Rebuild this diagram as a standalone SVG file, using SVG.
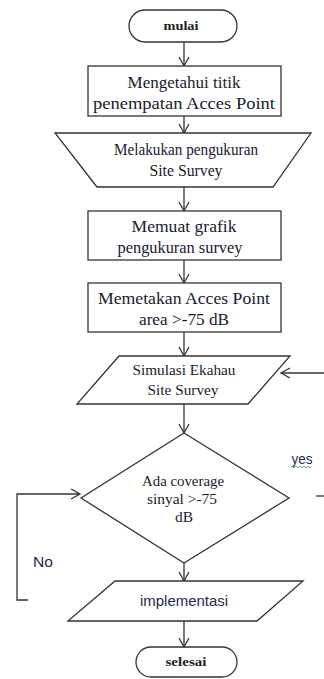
<svg xmlns="http://www.w3.org/2000/svg" width="324" height="679" viewBox="0 0 324 679">
<style>
.s{fill:#fff;stroke:#333;stroke-width:1.3}
.c{fill:none;stroke:#333;stroke-width:1.3}
.t{font-family:"Liberation Serif",serif;font-size:16.5px;fill:#1a1a2e;text-anchor:middle}
.d{font-family:"Liberation Serif",serif;font-size:15.5px;fill:#1a1a2e;text-anchor:middle}
.ts{font-family:"Liberation Serif",serif;font-size:12.5px;font-weight:bold;fill:#222;text-anchor:middle}
.sn{font-family:"Liberation Sans",sans-serif;font-size:14px;fill:#1f2a4d;text-anchor:middle}
</style>
<defs>
<marker id="ah" markerWidth="12" markerHeight="12" refX="10" refY="6" orient="auto" markerUnits="userSpaceOnUse">
<path d="M1,1 L10,6 L1,11" fill="none" stroke="#333" stroke-width="1.3"/>
</marker>
</defs>
<rect width="324" height="679" fill="#fff"/>
<g id="connectors">
<line class="c" x1="184" y1="42" x2="184" y2="66" marker-end="url(#ah)"/>
<line class="c" x1="184" y1="116" x2="184" y2="133" marker-end="url(#ah)"/>
<line class="c" x1="184" y1="187" x2="184" y2="211" marker-end="url(#ah)"/>
<line class="c" x1="184" y1="260" x2="184" y2="283" marker-end="url(#ah)"/>
<line class="c" x1="184" y1="332" x2="184" y2="356" marker-end="url(#ah)"/>
<line class="c" x1="184" y1="404" x2="184" y2="433" marker-end="url(#ah)"/>
<line class="c" x1="184" y1="563" x2="184" y2="581" marker-end="url(#ah)"/>
<line class="c" x1="184" y1="621" x2="184" y2="647" marker-end="url(#ah)"/>
<line class="c" x1="324" y1="373" x2="281" y2="373" marker-end="url(#ah)"/>
<polyline class="c" points="28,600 17,600 17,494 80,494" marker-end="url(#ah)"/>
<line class="c" x1="316" y1="496" x2="324" y2="496"/>
</g>
<g id="mulai">
<rect class="s" x="129" y="10" width="108" height="32" rx="16"/>
<text class="ts" x="181" y="30" textLength="35" lengthAdjust="spacingAndGlyphs">mulai</text>
</g>
<g id="mengetahui">
<rect class="s" x="88" y="66" width="193" height="50"/>
<text class="t" x="184" y="88" textLength="113" lengthAdjust="spacingAndGlyphs">Mengetahui titik</text>
<text class="t" x="184" y="109" textLength="182" lengthAdjust="spacingAndGlyphs">penempatan Acces Point</text>
</g>
<g id="melakukan">
<polygon class="s" points="55,133 311,133 273,187 97,187"/>
<text class="t" x="186" y="155" textLength="144" lengthAdjust="spacingAndGlyphs">Melakukan pengukuran</text>
<text class="t" x="186" y="176" textLength="73" lengthAdjust="spacingAndGlyphs">Site Survey</text>
</g>
<g id="memuat">
<rect class="s" x="88" y="211" width="193" height="49"/>
<text class="t" x="184" y="232" textLength="105" lengthAdjust="spacingAndGlyphs">Memuat grafik</text>
<text class="t" x="180" y="253" textLength="125" lengthAdjust="spacingAndGlyphs">pengukuran survey</text>
</g>
<g id="memetakan">
<rect class="s" x="88" y="283" width="193" height="49"/>
<text class="t" x="184" y="304" textLength="172" lengthAdjust="spacingAndGlyphs">Memetakan Acces Point</text>
<text class="t" x="184" y="325" textLength="90" lengthAdjust="spacingAndGlyphs">area &gt;-75  dB</text>
</g>
<g id="simulasi">
<polygon class="s" points="119,356 290,356 248,404 77,404"/>
<text class="d" x="184" y="375" textLength="103" lengthAdjust="spacingAndGlyphs">Simulasi Ekahau</text>
<text class="d" x="183" y="395" textLength="71" lengthAdjust="spacingAndGlyphs">Site Survey</text>
</g>
<g id="keputusan">
<polygon class="s" points="184,433 289,498 184,563 81,498"/>
<text class="d" x="183" y="486" textLength="82" lengthAdjust="spacingAndGlyphs">Ada coverage</text>
<text class="d" x="182" y="504" textLength="70" lengthAdjust="spacingAndGlyphs">sinyal &gt;-75</text>
<text class="d" x="184" y="522">dB</text>
</g>
<g id="implementasi">
<polygon class="s" points="115,581 303,581 257,621 68,621"/>
<text class="sn" x="184" y="606" textLength="88" lengthAdjust="spacingAndGlyphs">implementasi</text>
</g>
<g id="selesai">
<rect class="s" x="136" y="647" width="101" height="30" rx="15"/>
<text class="ts" x="186" y="666" textLength="41" lengthAdjust="spacingAndGlyphs">selesai</text>
</g>
<g id="labels">
<text class="sn" x="302" y="464" textLength="21" lengthAdjust="spacingAndGlyphs">yes</text>
<path d="M291,467 q1,-1.5 2,0 t2,0 t2,0 t2,0 t2,0 t2,0 t2,0 t2,0 t2,0 t2,0" fill="none" stroke="#3a9a3a" stroke-width="0.8"/>
<text class="sn" x="43" y="567" textLength="20" lengthAdjust="spacingAndGlyphs">No</text>
</g>
</svg>
